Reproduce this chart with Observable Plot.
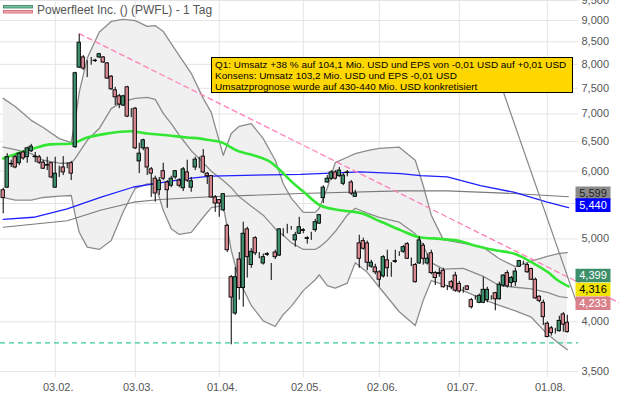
<!DOCTYPE html>
<html><head><meta charset="utf-8">
<script src="https://cdn.jsdelivr.net/npm/d3@7"></script>
<script src="https://cdn.jsdelivr.net/npm/@observablehq/plot@0.6"></script>
<style>
body{margin:0;background:#fff;font-family:Arial,"Liberation Sans",sans-serif;}
#wrap{position:relative;width:619px;height:399px;overflow:hidden;}
#legend{position:absolute;left:3px;top:1px;font-size:12px;color:#555;display:flex;align-items:center;gap:4px;z-index:3;height:17px}
#note{position:absolute;left:211px;top:57px;width:354px;height:32px;background:#ffd700;border:1.5px solid #000;font-size:9.95px;line-height:11px;padding:1px 3px;color:#000;z-index:3;white-space:nowrap;box-sizing:content-box;overflow:hidden}
</style></head><body>
<div id="wrap">
<div id="legend"><svg width="30" height="9"><rect x="0.5" y="0.5" width="29" height="2.5" fill="#7cc4a0" stroke="#2e7d5b" stroke-width="0.8"/><rect x="0.5" y="5.5" width="29" height="2.5" fill="#f0a8b0" stroke="#c8606e" stroke-width="0.8"/></svg><span id="ltitle"></span></div>
<div id="note"></div>
<div id="chart"></div>
</div>
<script>
// ---------- data ----------
const title = "Powerfleet Inc. () (PWFL) - 1 Tag";
const noteLines = [
  "Q1: Umsatz +38 % auf 104,1 Mio. USD und EPS von -0,01 USD auf +0,01 USD",
  "Konsens: Umsatz 103,2 Mio. USD und EPS -0,01 USD",
  "Umsatzprognose wurde auf 430-440 Mio. USD konkretisiert"
];
const opens = [5.70,5.74,6.12,6.23,6.13,6.31,6.23,6.33,6.24,6.23,6.14,6.10,6.13,5.74,6.00,6.06,6.10,6.13,6.40,7.93,
8.15,8.04,8.08,8.08,8.15,8.15,8.02,7.74,7.46,7.34,7.16,7.52,7.00,7.10,6.16,6.38,6.38,6.03,5.88,5.70,
6.00,5.82,5.77,5.90,5.85,5.73,5.98,5.74,6.06,6.21,6.24,5.96,5.92,5.59,5.55,5.40,5.18,4.51,4.09,4.73,
4.38,5.13,4.66,5.01,4.78,4.68,4.80,4.57,4.82,4.78,5.09,5.13,5.14,4.98,5.07,5.12,5.01,5.06,5.12,5.21,
5.58,5.82,5.88,5.98,5.92,5.80,5.98,5.82,5.60,4.94,4.97,4.94,4.64,4.63,4.57,4.52,4.72,4.64,4.71,4.81,
4.83,4.93,4.74,4.66,4.68,4.91,4.68,4.81,4.56,4.56,4.59,4.39,4.45,4.53,4.43,4.35,4.40,4.24,4.26,4.21,
4.21,4.24,4.27,4.32,4.25,4.41,4.56,4.44,4.45,4.64,4.68,4.66,4.61,4.48,4.28,4.21,3.98,3.93,3.91,3.90,
4.08,3.99];
const highs = [5.73,6.29,6.18,6.26,6.31,6.34,6.40,6.45,6.31,6.26,6.18,6.23,6.14,6.23,6.08,6.24,6.14,6.16,7.83,8.67,
8.19,8.08,8.15,8.11,8.24,8.17,8.04,7.76,7.52,7.38,7.36,7.54,7.10,7.12,6.47,6.54,6.40,6.06,5.92,5.90,
6.13,5.85,5.92,6.01,5.88,6.06,6.18,5.90,6.23,6.23,6.36,5.98,5.93,5.62,5.56,5.65,5.20,4.53,4.63,4.82,
5.23,5.16,4.87,5.03,4.82,4.80,4.82,4.68,4.85,5.14,5.14,5.20,5.17,5.09,5.30,5.14,5.03,5.09,5.27,5.34,
5.77,5.93,6.01,6.01,6.06,5.96,6.01,5.85,5.70,5.05,5.01,4.97,4.72,4.67,4.59,4.78,4.85,4.69,4.85,4.83,
4.91,4.95,4.75,4.68,5.03,4.94,4.80,4.85,4.58,4.62,4.62,4.41,4.47,4.57,4.46,4.39,4.41,4.26,4.29,4.31,
4.51,4.39,4.29,4.33,4.45,4.54,4.59,4.52,4.62,4.72,4.71,4.68,4.62,4.50,4.29,4.24,4.00,3.95,3.93,4.06,
4.10,4.07];
const lows = [5.35,5.73,6.06,6.04,6.09,6.18,6.13,6.31,6.14,6.11,6.03,6.01,5.88,5.73,5.90,5.93,6.04,5.85,6.38,7.91,
7.87,7.72,7.98,8.04,8.13,8.02,7.68,7.46,7.16,7.10,7.14,6.93,6.93,6.36,5.96,6.34,5.93,5.59,5.52,5.62,
5.85,5.43,5.74,5.87,5.74,5.68,5.82,5.67,6.01,6.04,5.96,5.79,5.58,5.37,5.30,5.38,4.82,3.76,4.07,4.24,
4.16,4.50,4.62,4.78,4.74,4.66,4.77,4.47,4.73,4.77,5.03,5.07,5.12,4.89,5.06,5.07,4.93,4.98,5.09,5.20,
5.50,5.81,5.85,5.86,5.90,5.77,5.91,5.62,5.59,4.62,4.85,4.59,4.62,4.54,4.39,4.50,4.51,4.51,4.68,4.77,
4.81,4.73,4.64,4.44,4.67,4.66,4.66,4.54,4.41,4.51,4.38,4.35,4.36,4.33,4.32,4.32,4.35,4.14,4.24,4.20,
4.20,4.21,4.24,4.12,4.24,4.39,4.38,4.39,4.40,4.63,4.66,4.56,4.47,4.25,4.21,3.96,3.83,3.85,3.87,3.89,
3.89,3.88];
const closes = [5.58,6.23,6.11,6.06,6.29,6.21,6.38,6.41,6.23,6.14,6.04,6.09,5.90,5.96,6.00,5.98,6.10,5.96,7.81,8.48,
7.91,8.04,8.08,8.07,8.22,8.04,7.70,7.48,7.32,7.18,7.34,6.95,7.00,6.38,6.29,6.52,6.06,5.96,5.65,5.85,
5.88,5.70,5.88,6.00,5.77,6.03,5.85,5.84,6.19,6.21,5.98,5.92,5.59,5.50,5.50,5.64,4.85,4.27,4.51,4.38,
5.07,4.76,4.83,4.81,4.78,4.76,4.79,4.57,4.76,5.13,5.09,5.13,5.14,5.05,5.16,5.11,5.00,5.06,5.23,5.33,
5.74,5.88,5.98,5.88,6.01,5.93,5.97,5.65,5.65,4.74,4.87,4.69,4.69,4.57,4.48,4.76,4.62,4.64,4.70,4.81,
4.89,4.74,4.74,4.45,4.98,4.74,4.74,4.56,4.50,4.55,4.39,4.39,4.39,4.35,4.34,4.35,4.36,4.16,4.26,4.29,
4.36,4.36,4.27,4.25,4.42,4.53,4.40,4.50,4.58,4.71,4.68,4.57,4.48,4.26,4.23,4.05,3.84,3.88,3.91,4.01,
3.97,3.89];

const bandIdx = [0,3,7,10,14,17,18,19,21,24,27,30,33,36,38,40,42,44,47,50,52,55,57,59,62,65,68,70,72,75,78,79,81,83,86,88,91,94,99,103,105,107,110,115,120,124,128,132,136,139,141];
const bandUpper = [7.30,7.14,6.88,6.75,6.55,6.48,6.88,7.42,8.13,8.72,8.98,9.03,9.00,8.86,8.88,8.74,8.46,8.19,7.81,7.30,7.03,6.26,6.64,6.77,6.82,6.55,6.18,5.80,5.58,5.37,5.37,5.43,5.73,6.14,6.23,6.29,6.34,6.38,6.40,6.18,5.77,5.33,4.99,4.94,4.89,4.74,4.64,4.71,4.77,4.81,4.82];
const bandMiddle = [6.40,6.36,6.29,6.18,6.13,6.13,6.21,6.31,6.52,6.73,7.10,7.24,7.30,7.32,7.28,7.01,6.82,6.61,6.34,6.14,6.00,5.85,5.74,5.60,5.46,5.33,5.14,5.05,4.95,4.86,4.86,4.89,4.98,5.10,5.33,5.43,5.36,5.30,5.23,5.07,4.91,4.69,4.61,4.62,4.52,4.41,4.39,4.37,4.33,4.28,4.27];
const bandLower = [5.59,5.55,5.55,5.59,5.61,5.62,5.33,5.09,4.89,4.86,4.98,5.38,5.73,5.80,5.80,5.40,5.14,5.06,5.09,5.30,5.44,5.47,4.85,4.47,4.18,4.01,3.95,4.08,4.17,4.35,4.48,4.54,4.41,4.38,4.44,4.69,4.57,4.39,4.11,3.96,4.24,4.47,4.42,4.35,4.25,4.18,4.12,4.05,3.87,3.77,3.71];

const greenIdx = [0,4.3,7.6,11.8,16.8,21,26,31.8,36,41,46,49.3,51.8,54.3,58.5,62.7,66.8,69.3,71.8,75.2,79.3,84.3,89.3,94.3,99.3,104.3,109.3,114.3,118,123,128,132.3,136.2,138.7,141.3];
const greenVal = [6.21,6.31,6.38,6.45,6.46,6.57,6.64,6.68,6.64,6.61,6.57,6.55,6.52,6.49,6.34,6.26,6.15,6.01,5.85,5.67,5.47,5.40,5.36,5.24,5.12,5.02,5.00,4.97,4.91,4.85,4.80,4.69,4.57,4.47,4.40];
const blueIdx = [0,7.6,16,24.3,32.6,37.6,46,51.8,57.6,74.3,89.3,99.3,104.3,111,119.3,127.6,136,141.3];
const blueVal = [5.27,5.30,5.42,5.59,5.75,5.80,5.88,5.92,5.93,5.95,5.99,5.96,5.93,5.91,5.77,5.67,5.52,5.44];
const grayIdx = [0,16,24.3,32.6,39.3,51.8,74.3,99.3,111,127.6,141.3];
const grayVal = [5.16,5.25,5.40,5.52,5.56,5.60,5.65,5.69,5.69,5.65,5.60];

const trendIdx = [19,154];
const trendVal = [8.69,4.21];
const pointerIdx = [123.6,143.1];
const pointerVal = [7.76,4.24];
const lowLevel = [3.78];

const yTicks = [3.5,4,4.5,5,5.5,6,6.5,7,7.5,8,8.5,9,9.5];
const yTickLabels = [3.5,4,5,6,6.5,7,7.5,8,8.5,9,9.5];
const xTickIdx = [13,33,54,75,94,114,136];
const xTickLabels = ["03.02.","03.03.","01.04.","02.05.","02.06.","01.07.","01.08."];

const lastVals = [5.599,5.440,4.399,4.316,4.233];
// ---------- build ----------
document.getElementById("ltitle").textContent = title;
document.getElementById("note").innerHTML = noteLines.map(s => `<div>${s}</div>`).join("");

const fmt = v => v.toFixed(3).replace(".", ",");
const candles = opens.map((o, i) => ({i, o, h: highs[i], l: lows[i], c: closes[i]}));
const band = bandIdx.map((i, k) => ({i, up: bandUpper[k], mid: bandMiddle[k], lo: bandLower[k]}));
const pts = (ix, vs) => ix.map((i, k) => ({i, v: vs[k]}));
const tickLabel = new Map(xTickIdx.map((d, k) => [d, xTickLabels[k]]));

const GREEN = "#3d8f6c", RED = "#d98892";
const boxStyle = [
  {fill: "#8a8a8a", text: "#222", dy: -3.5},
  {fill: "#0000ff", text: "#fff", dy: -2.5},
  {fill: "#3d8f6c", text: "#fff", dy: -11},
  {fill: "#f2e300", text: "#000", dy: -4},
  {fill: "#d9808a", text: "#fff", dy: 2.5}
];
const boxSym = {draw(ctx) { ctx.rect(-17.5, -6.8, 35, 13.6); }};

const labelMarks = lastVals.flatMap((v, k) => [
  Plot.dot([v], {y: d => d, frameAnchor: "right", dx: 14.5, dy: boxStyle[k].dy, symbol: boxSym, fill: boxStyle[k].fill, stroke: "none"}),
  Plot.text([v], {y: d => d, frameAnchor: "right", dx: 14.5, dy: boxStyle[k].dy, text: d => fmt(d), fill: boxStyle[k].text, fontSize: 11, textAnchor: "middle"})
]);

const chart = Plot.plot({
  width: 619, height: 399,
  marginTop: 0, marginBottom: 22, marginLeft: 0, marginRight: 41,
  x: {type: "linear", domain: [-0.675, 143.8], axis: null},
  y: {type: "log", domain: [3.443, 9.5], axis: null},
  style: {fontFamily: "Arial, 'Liberation Sans', sans-serif", fontSize: "11px", background: "transparent", overflow: "visible"},
  marks: [
    Plot.gridY(yTicks, {stroke: "#e4e4e4", strokeOpacity: 1}),
    Plot.gridX(xTickIdx, {stroke: "#e4e4e4", strokeOpacity: 1}),
    Plot.areaY(band, {x: "i", y1: "lo", y2: "up", fill: "#efefef", fillOpacity: 0.95}),
    Plot.line(band, {x: "i", y: "up", stroke: "#8c8c8c", strokeWidth: 1.3}),
    Plot.line(band, {x: "i", y: "mid", stroke: "#8c8c8c", strokeWidth: 1.3}),
    Plot.line(band, {x: "i", y: "lo", stroke: "#8c8c8c", strokeWidth: 1.3}),
    Plot.line(pts(grayIdx, grayVal), {x: "i", y: "v", stroke: "#7a7a7a", strokeWidth: 1.1}),
    Plot.line(pts(blueIdx, blueVal), {x: "i", y: "v", stroke: "#1f1fff", strokeWidth: 1.3}),
    Plot.ruleY(lowLevel, {stroke: "#33cc99", strokeWidth: 1.2, strokeDasharray: "5,4"}),
    Plot.line(pts(trendIdx, trendVal), {x: "i", y: "v", stroke: "#ff80b8", strokeWidth: 1.3, strokeDasharray: "5,4"}),
    Plot.line(pts(greenIdx, greenVal), {x: "i", y: "v", stroke: "#33e633", strokeWidth: 2.6, curve: "monotone-x"}),
    Plot.ruleX(candles, {x: "i", y1: "l", y2: "h", stroke: "#000", strokeWidth: 1}),
    Plot.rect(candles, {x1: d => d.i - 0.42, x2: d => d.i + 0.42, y1: "o", y2: "c",
      fill: d => d.c > d.o ? GREEN : d.c < d.o ? RED : "#000", stroke: "#000", strokeWidth: 0.9}),
    Plot.line(pts(pointerIdx, pointerVal), {x: "i", y: "v", stroke: "#888", strokeWidth: 1.2}),
    Plot.axisY(yTickLabels, {anchor: "right", label: null, tickSize: 0, tickPadding: 3, tickFormat: fmt, fontSize: 11, color: "#555"}),
    Plot.axisX(xTickIdx, {anchor: "bottom", label: null, tickSize: 0, tickPadding: 6, tickFormat: d => tickLabel.get(d), fontSize: 11, color: "#555", dx: 3}),
    ...labelMarks
  ]
});
document.getElementById("chart").appendChild(chart);
</script>
</body></html>
